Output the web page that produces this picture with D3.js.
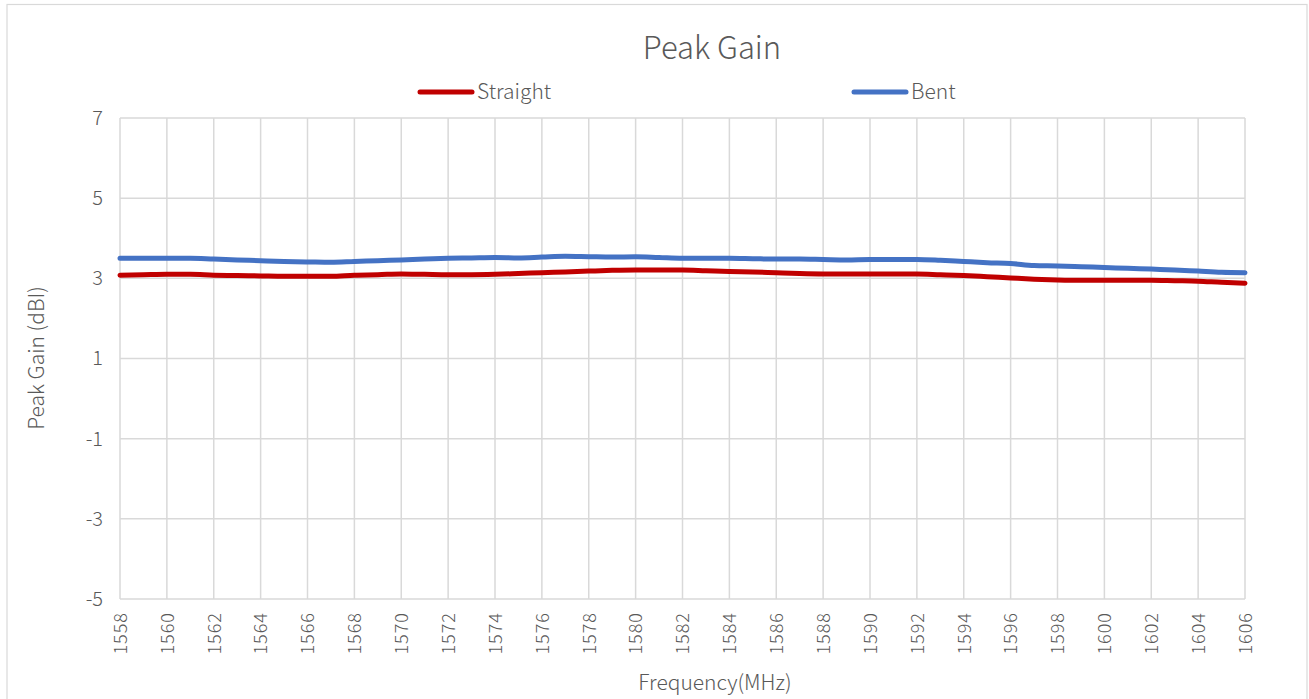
<!DOCTYPE html>
<html>
<head>
<meta charset="utf-8">
<script src="https://cdn.jsdelivr.net/npm/d3@7"></script>
<style>
  body { margin: 0; background: #fff; }
  svg { display: block; font-family: "Noto Sans CJK SC", "Noto Sans", sans-serif; font-weight: 300; }
</style>
</head>
<body>
<svg id="svg" width="1309" height="699"></svg>
<script>
// DATA //
const freqs = d3.range(1558, 1607);
const straight = [3.08, 3.09, 3.10, 3.10, 3.08, 3.07, 3.06, 3.05, 3.05, 3.05,
  3.08, 3.09, 3.11, 3.10, 3.09, 3.09, 3.10, 3.12, 3.14, 3.16,
  3.18, 3.20, 3.21, 3.21, 3.21, 3.19, 3.17, 3.16, 3.14, 3.12,
  3.11, 3.11, 3.11, 3.11, 3.11, 3.09, 3.07, 3.04, 3.01, 2.98,
  2.96, 2.95, 2.95, 2.95, 2.95, 2.94, 2.93, 2.90, 2.88];
const bent = [3.50, 3.50, 3.50, 3.50, 3.48, 3.46, 3.44, 3.42, 3.41, 3.40,
  3.42, 3.44, 3.46, 3.48, 3.50, 3.51, 3.52, 3.51, 3.53, 3.55,
  3.54, 3.53, 3.54, 3.52, 3.50, 3.50, 3.50, 3.49, 3.48, 3.48,
  3.47, 3.46, 3.47, 3.47, 3.47, 3.45, 3.42, 3.39, 3.37, 3.32,
  3.31, 3.29, 3.27, 3.25, 3.23, 3.21, 3.18, 3.15, 3.14];
const xTicks = d3.range(1558, 1607, 2);
const yTicks = [-5, -3, -1, 1, 3, 5, 7];

const series = [
  {name: "Straight", values: straight, color: "#C00000"},
  {name: "Bent", values: bent, color: "#4472C4"}
];

// LAYOUT //
const svg = d3.select("#svg");
let margin = {top: 118, right: 64, bottom: 100, left: 120};
let width = 1309 - margin.left - margin.right;
let height = 699 - margin.top - margin.bottom;
const textColor = "#595959";
const gridColor = "#d9d9d9";
const fontFamily = '"Noto Sans CJK SC", "Noto Sans", sans-serif';

// Outer chart border
svg.append("rect")
  .attr("x", 7).attr("y", 4.5)
  .attr("width", 1300).attr("height", 700)
  .attr("fill", "none")
  .attr("stroke", gridColor)
  .attr("stroke-width", 1.2);

const g = svg.append("g")
  .attr("transform", `translate(${margin.left},${margin.top})`);

let x = d3.scaleLinear().domain([1558, 1606]).range([0, width]);
let y = d3.scaleLinear().domain([-5, 7]).range([height, 0]);

// Gridlines
g.append("g").selectAll("line.h")
  .data(yTicks)
  .enter().append("line")
  .attr("x1", 0).attr("x2", width)
  .attr("y1", d => y(d)).attr("y2", d => y(d))
  .attr("stroke", gridColor).attr("stroke-width", 1.5);

g.append("g").selectAll("line.v")
  .data(xTicks)
  .enter().append("line")
  .attr("x1", d => x(d)).attr("x2", d => x(d))
  .attr("y1", 0).attr("y2", height)
  .attr("stroke", gridColor).attr("stroke-width", 1.5);

// Axes (labels only)
const yAxis = g.append("g")
  .call(d3.axisLeft(y).tickValues(yTicks).tickSize(0).tickPadding(17)
    .tickFormat(d => String(d)));
yAxis.attr("font-family", fontFamily).attr("font-size", null);
yAxis.select(".domain").remove();
yAxis.selectAll("text")
  .attr("fill", textColor)
  .style("font-size", "20px");

const xAxis = g.append("g")
  .attr("transform", `translate(0,${height})`)
  .call(d3.axisBottom(x).tickValues(xTicks).tickFormat(d3.format("d")).tickSize(0));
xAxis.attr("font-family", fontFamily).attr("font-size", null);
xAxis.select(".domain").remove();
xAxis.selectAll("text")
  .attr("fill", textColor)
  .style("font-size", "18px")
  .style("letter-spacing", "1px")
  .attr("transform", "rotate(-90)")
  .attr("text-anchor", "end")
  .attr("dy", "0.35em")
  .attr("x", -13)
  .attr("y", 0);

// Lines
let line = d3.line()
  .x((d, i) => x(freqs[i]))
  .y(d => y(d))
  .curve(d3.curveMonotoneX);

g.selectAll("path.series")
  .data(series)
  .enter().append("path")
  .attr("class", "series")
  .attr("fill", "none")
  .attr("stroke", d => d.color)
  .attr("stroke-width", 5)
  .attr("stroke-linecap", "round")
  .attr("d", d => line(d.values));

// Title
svg.append("text")
  .attr("x", 712).attr("y", 59)
  .attr("text-anchor", "middle")
  .attr("fill", textColor)
  .style("font-size", "31px")
  .text("Peak Gain");

// Legend
const legendPos = [{lx: 420, tx: 477}, {lx: 854, tx: 911}];
const legend = svg.append("g").selectAll("g")
  .data(series)
  .enter().append("g");

legend.append("line")
  .attr("x1", (d, i) => legendPos[i].lx)
  .attr("x2", (d, i) => legendPos[i].lx + 52)
  .attr("y1", 92).attr("y2", 92)
  .attr("stroke", d => d.color)
  .attr("stroke-width", 5)
  .attr("stroke-linecap", "round");

legend.append("text")
  .attr("x", (d, i) => legendPos[i].tx)
  .attr("y", 99)
  .attr("fill", textColor)
  .style("font-size", "21px")
  .text(d => d.name);

// Axis titles
svg.append("text")
  .attr("transform", "translate(44,358) rotate(-90)")
  .attr("text-anchor", "middle")
  .attr("fill", textColor)
  .style("font-size", "21px")
  .text("Peak Gain (dBI)");

svg.append("text")
  .attr("x", 715).attr("y", 690)
  .attr("text-anchor", "middle")
  .attr("fill", textColor)
  .style("font-size", "21px")
  .text("Frequency(MHz)");
</script>
</body>
</html>
